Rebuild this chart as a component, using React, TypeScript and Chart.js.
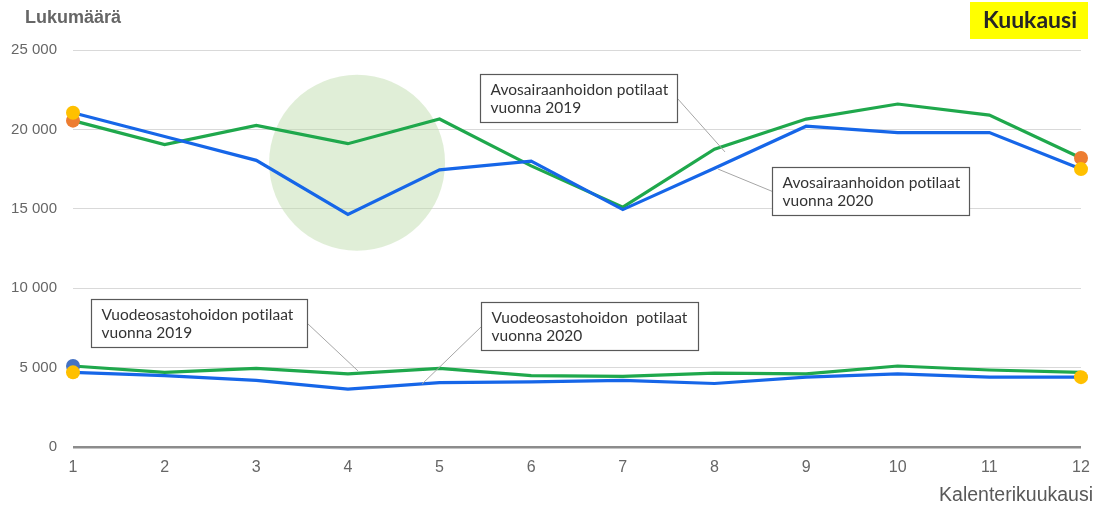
import React, { useEffect, useRef } from "react";
import { Chart, registerables } from "chart.js";

Chart.register(...registerables);

// ---- data ----
const months = ["1", "2", "3", "4", "5", "6", "7", "8", "9", "10", "11", "12"];
const avo2019 = [20550, 19050, 20250, 19100, 20650, 17700, 15100, 18750, 20650, 21600, 20900, 18200];
const avo2020 = [21050, 19550, 18050, 14650, 17450, 18000, 14950, 17550, 20200, 19800, 19800, 17500];
const vuode2019 = [5100, 4700, 4950, 4600, 4950, 4500, 4450, 4650, 4600, 5100, 4850, 4700];
const vuode2020 = [4700, 4500, 4200, 3650, 4050, 4100, 4200, 4000, 4400, 4600, 4400, 4400];
const yMax = 25000;
const yStep = 5000;

const yTitle = "Lukumäärä";
const xTitle = "Kalenterikuukausi";
const badge = "Kuukausi";

// ---- styles ----
const GREEN = "#1fa84c";
const BLUE = "#1666e8";
const ORANGE = "#ed7d31";
const GOLD = "#ffc000";
const DOTBLUE = "#4472c4";
const GRAY = "#666666";
const NARROW = "'Liberation Sans Narrow', 'Liberation Sans', Arial, sans-serif";
const SANS = "'Liberation Sans', Arial, sans-serif";

const notes = [
  { lines: ["Avosairaanhoidon potilaat", "vuonna 2019"], boxIdx: 4.44, boxVal: 23490, width: 197, side: "right", tIdx: 7.115, tVal: 18580 },
  { lines: ["Avosairaanhoidon potilaat", "vuonna 2020"], boxIdx: 7.63, boxVal: 17630, width: 197, side: "left", tIdx: 7.04, tVal: 17500 },
  { lines: ["Vuodeosastohoidon potilaat", "vuonna 2019"], boxIdx: 0.196, boxVal: 9320, width: 216, side: "right", tIdx: 3.11, tVal: 4790 },
  { lines: ["Vuodeosastohoidon  potilaat", "vuonna 2020"], boxIdx: 4.45, boxVal: 9130, width: 217, side: "left", tIdx: 3.81, tVal: 3970 },
];
const highlight = { idx: 3.1, val: 17900, r: 0.96 };

function endDots(n: number, left: string | null, right: string | null) {
  const radius = new Array(n).fill(0);
  const colors = new Array(n).fill("rgba(0,0,0,0)");
  if (left) { radius[0] = 7; colors[0] = left; }
  if (right) { radius[n - 1] = 7; colors[n - 1] = right; }
  return { pointRadius: radius, pointBackgroundColor: colors, pointBorderWidth: 0, pointHoverRadius: radius };
}

function fmt(v: number) {
  return String(v).replace(/\B(?=(\d{3})+(?!\d))/g, " ");
}

const decor = {
  id: "decor",
  beforeDatasetsDraw(chart: any) {
    const { ctx, scales } = chart;
    const x = scales.x, y = scales.y;
    const step = x.getPixelForValue(1) - x.getPixelForValue(0);
    ctx.save();
    ctx.beginPath();
    ctx.arc(x.getPixelForValue(highlight.idx), y.getPixelForValue(highlight.val), step * highlight.r, 0, Math.PI * 2);
    ctx.fillStyle = "rgba(190,220,172,0.48)";
    ctx.fill();
    ctx.restore();
  },
  afterDraw(chart: any) {
    const { ctx, scales } = chart;
    const x = scales.x, y = scales.y;
    ctx.save();
    // notes
    const h = 48;
    for (const n of notes) {
      const bx = Math.round(x.getPixelForValue(n.boxIdx)) + 0.5;
      const by = Math.round(y.getPixelForValue(n.boxVal)) + 0.5;
      const sx = n.side === "right" ? bx + n.width : bx;
      const sy = by + h / 2;
      ctx.beginPath();
      ctx.moveTo(sx, sy);
      ctx.lineTo(x.getPixelForValue(n.tIdx), y.getPixelForValue(n.tVal));
      ctx.strokeStyle = "#a6a6a6";
      ctx.lineWidth = 1;
      ctx.stroke();
      ctx.fillStyle = "#ffffff";
      ctx.fillRect(bx, by, n.width, h);
      ctx.strokeStyle = "#595959";
      ctx.lineWidth = 1.2;
      ctx.strokeRect(bx, by, n.width, h);
      ctx.fillStyle = "#333333";
      ctx.font = "15.5px Lato, 'Open Sans', sans-serif";
      try { (ctx as any).letterSpacing = "0.05px"; } catch (e) { /* ignore */ }
      ctx.textBaseline = "middle";
      ctx.textAlign = "left";
      n.lines.forEach((t, i) => ctx.fillText(t, bx + 10, by + 15 + i * 18));
      try { (ctx as any).letterSpacing = "0px"; } catch (e) { /* ignore */ }
    }
    // y title
    ctx.fillStyle = GRAY;
    ctx.font = "bold 18px " + SANS;
    ctx.textAlign = "left";
    ctx.textBaseline = "middle";
    ctx.fillText(yTitle, 25, 18);
    // badge
    ctx.fillStyle = "#ffff00";
    ctx.fillRect(970, 2, 118, 37);
    ctx.fillStyle = "#262626";
    ctx.font = "bold 23px Lato, sans-serif";
    ctx.textAlign = "center";
    ctx.fillText(badge, 1030, 21);
    // x title
    ctx.fillStyle = "#595959";
    ctx.font = "19.5px " + NARROW;
    ctx.textAlign = "right";
    ctx.fillText(xTitle, 1093, 496);
    ctx.restore();
  },
};

export default function App() {
  const ref = useRef<HTMLCanvasElement>(null);
  useEffect(() => {
    if (!ref.current) return;
    const n = months.length;
    const chart = new Chart(ref.current, {
      type: "line",
      data: {
        labels: months,
        datasets: [
          { label: "Avosairaanhoidon potilaat vuonna 2020", data: avo2020, borderColor: BLUE, borderWidth: 3.2, tension: 0, ...endDots(n, GOLD, GOLD) },
          { label: "Vuodeosastohoidon potilaat vuonna 2020", data: vuode2020, borderColor: BLUE, borderWidth: 3.2, tension: 0, ...endDots(n, GOLD, GOLD) },
          { label: "Avosairaanhoidon potilaat vuonna 2019", data: avo2019, borderColor: GREEN, borderWidth: 3.2, tension: 0, ...endDots(n, ORANGE, ORANGE) },
          { label: "Vuodeosastohoidon potilaat vuonna 2019", data: vuode2019, borderColor: GREEN, borderWidth: 3.2, tension: 0, ...endDots(n, DOTBLUE, null) },
        ],
      },
      options: {
        responsive: false,
        animation: false,
        devicePixelRatio: 1,
        layout: { padding: { top: 50, right: 26, left: 0, bottom: 0 } },
        plugins: { legend: { display: false }, tooltip: { enabled: false }, title: { display: false } },
        scales: {
          x: {
            offset: false,
            grid: { display: false, drawTicks: false },
            border: { display: false },
            ticks: { color: GRAY, font: { family: NARROW, size: 16 }, padding: 11, maxRotation: 0, autoSkip: false },
            afterFit: (s: any) => { s.height = 61; },
          },
          y: {
            min: 0,
            max: yMax,
            grid: {
              drawTicks: false,
              color: (c: any) => (c.tick && c.tick.value === 0 ? "#8c8c8c" : "#d9d9d9"),
              lineWidth: (c: any) => (c.tick && c.tick.value === 0 ? 2.5 : 1),
            },
            border: { display: false },
            ticks: { stepSize: yStep, color: GRAY, font: { family: SANS, size: 15 }, padding: 16, callback: (v: any) => fmt(Number(v)) },
            afterFit: (s: any) => { s.width = 73; },
          },
        },
      },
      plugins: [decor],
    });
    return () => chart.destroy();
  }, []);
  return (
    <div style={{ position: "absolute", left: 0, top: 0, width: 1107, height: 508, background: "#ffffff" }}>
      <canvas ref={ref} width={1107} height={508} style={{ display: "block" }} />
    </div>
  );
}
